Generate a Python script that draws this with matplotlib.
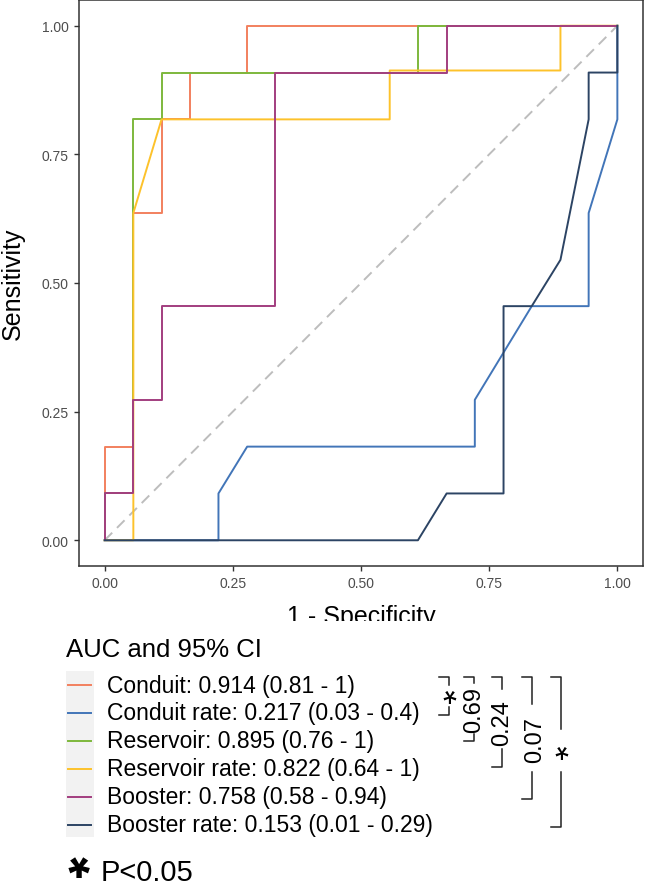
import matplotlib
matplotlib.use("Agg")
import matplotlib.pyplot as plt
from matplotlib.lines import Line2D
from matplotlib.patches import Rectangle

plt.rcParams['font.family'] = ['Liberation Sans', 'DejaVu Sans']

# ROC curves (1 - specificity, sensitivity)
conduit_x = [0, 0, 0.056, 0.056, 0.111, 0.111, 0.167, 0.167, 0.278, 0.278, 1]
conduit_y = [0, 0.182, 0.182, 0.636, 0.636, 0.818, 0.818, 0.909, 0.909, 1, 1]

conduit_rate_x = [0, 0.222, 0.222, 0.278, 0.722, 0.722, 0.833, 0.944, 0.944, 1, 1]
conduit_rate_y = [0, 0, 0.091, 0.182, 0.182, 0.273, 0.455, 0.455, 0.636, 0.818, 1]

reservoir_x = [0, 0, 0.056, 0.056, 0.111, 0.111, 0.611, 0.611, 1]
reservoir_y = [0, 0.091, 0.091, 0.818, 0.818, 0.909, 0.909, 1, 1]

reservoir_rate_x = [0, 0.056, 0.056, 0.111, 0.556, 0.556, 0.889, 0.889, 1]
reservoir_rate_y = [0, 0, 0.636, 0.818, 0.818, 0.913, 0.913, 1, 1]

booster_x = [0, 0, 0.056, 0.056, 0.111, 0.111, 0.333, 0.333, 0.667, 0.667, 1]
booster_y = [0, 0.091, 0.091, 0.273, 0.273, 0.455, 0.455, 0.909, 0.909, 1, 1]

booster_rate_x = [0, 0.611, 0.667, 0.778, 0.778, 0.833, 0.889, 0.944, 0.944, 1, 1]
booster_rate_y = [0, 0, 0.091, 0.091, 0.455, 0.455, 0.545, 0.818, 0.909, 0.909, 1]

labels = ["Conduit: 0.914 (0.81 - 1)",
          "Conduit rate: 0.217 (0.03 - 0.4)",
          "Reservoir: 0.895 (0.76 - 1)",
          "Reservoir rate: 0.822 (0.64 - 1)",
          "Booster: 0.758 (0.58 - 0.94)",
          "Booster rate: 0.153 (0.01 - 0.29)"]
colors = ["#F2805E", "#4275B8", "#7DB83C", "#FDC22B", "#A23E7F", "#2C4464"]

# pairwise p-values shown as brackets
p_labels = ["*", "0.69", "0.24", "0.07", "*"]

curves = [(conduit_x, conduit_y), (conduit_rate_x, conduit_rate_y),
          (reservoir_x, reservoir_y), (reservoir_rate_x, reservoir_rate_y),
          (booster_x, booster_y), (booster_rate_x, booster_rate_y)]

W, H = 646, 887
fig = plt.figure(figsize=(W / 100, H / 100), dpi=100)


def fx(px):
    return px / W


def fy(py):
    return 1 - py / H


ax = fig.add_axes([fx(79), fy(567), fx(643) - fx(79), fy(1) - fy(567)])
ax.plot([0, 1], [0, 1], color="#BDBDBD", lw=1.4, ls=(0, (5.5, 3.5)))
for (xs, ys), c in zip(curves, colors):
    ax.plot(xs, ys, color=c, lw=1.4)

ax.set_xlim(-0.05, 1.05)
ax.set_ylim(-0.05, 1.05)
ticks = [0, 0.25, 0.5, 0.75, 1.0]
ax.set_xticks(ticks)
ax.set_yticks(ticks)
ax.set_xticklabels(["0.00", "0.25", "0.50", "0.75", "1.00"])
ax.set_yticklabels(["0.00", "0.25", "0.50", "0.75", "1.00"])
ax.tick_params(length=3.5, width=1, color="#333333", labelsize=10, labelcolor="#4D4D4D", pad=4)
for s in ax.spines.values():
    s.set_color("#333333")
    s.set_linewidth(1.1)
ax.set_xlabel("1 - Specificity", fontsize=18, labelpad=10)
ax.set_ylabel("Sensitivity", fontsize=18)
ax.yaxis.set_label_coords(-0.096, 0.5)

# the reference image cuts the x label off at the bottom
fig.add_artist(Rectangle((0, fy(640)), 1, fy(622) - fy(640), transform=fig.transFigure,
                         facecolor="white", edgecolor="none", zorder=10))

# legend
fig.text(fx(66), fy(657), "AUC and 95% CI", fontsize=18.5, va="baseline", ha="left")
fig.add_artist(Rectangle((fx(66), fy(838)), fx(94) - fx(66), fy(672) - fy(838),
                         transform=fig.transFigure, facecolor="#F2F2F2", edgecolor="none"))
row_y = [686, 714, 742, 770, 798, 826]
for lab, c, ry in zip(labels, colors, row_y):
    fig.add_artist(Line2D([fx(68), fx(91)], [fy(ry), fy(ry)], color=c, lw=1.4,
                          transform=fig.transFigure))
    fig.text(fx(107), fy(ry), lab, fontsize=16.5, va="center", ha="left")

# significance brackets
br_x = [449, 474, 502, 532, 561]
br_bottom = [716, 742, 768, 800, 828]
br_gap = [(686, 708), (684, 735), (690, 750), (705, 773), (730, 773)]
br_text_x = [449, 474, 502, 535, 561]
br_text_y = [697, 710, 723, 740, 753]
top = 678
for i in range(5):
    x = br_x[i]
    g0, g1 = br_gap[i]
    kw = dict(color="#222222", lw=1.1, transform=fig.transFigure)
    fig.add_artist(Line2D([fx(x - 10), fx(x), fx(x)], [fy(top), fy(top), fy(g0)], **kw))
    fig.add_artist(Line2D([fx(x), fx(x), fx(x - 10)], [fy(g1), fy(br_bottom[i]), fy(br_bottom[i])], **kw))
    if p_labels[i] == "*":
        # asterisk glyph sits high in its box; turned over it rests on the box bottom
        fig.text(fx(br_text_x[i]), fy(br_text_y[i] + 6), "*", fontsize=26, rotation=180,
                 ha="center", va="bottom")
    else:
        fig.text(fx(br_text_x[i]), fy(br_text_y[i]), p_labels[i], fontsize=17, rotation=90,
                 ha="center", va="center")

fig.text(fx(79.5), fy(879), "*", fontsize=40, fontweight="bold", rotation=180,
         va="bottom", ha="center")
fig.text(fx(101), fy(881), "P<0.05", fontsize=21, va="baseline", ha="left")

fig.savefig("out.png", dpi=100)
